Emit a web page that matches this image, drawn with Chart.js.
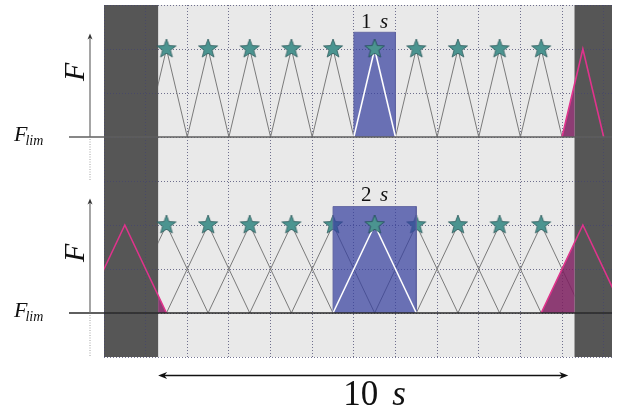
<!DOCTYPE html>
<html>
<head>
<meta charset="utf-8">
<script src="https://cdn.jsdelivr.net/npm/chart.js@4.4.0/dist/chart.umd.min.js"></script>
<style>
html,body{margin:0;padding:0;background:#fff;}
#wrap{width:628px;height:412px;}
</style>
</head>
<body>
<div id="wrap"><canvas id="chart" width="628" height="412"></canvas></div>
<script>
// x = time in seconds (1 grid cell = 1 s), y = force in grid rows
const starCenters = [1.5, 2.5, 3.5, 4.5, 5.5, 6.5, 7.5, 8.5, 9.5, 10.5];
const topBase = 5, topPeak = 7, topHalf = 0.5;   // upper panel, 1 s pulses
const botBase = 1, botPeak = 3, botHalf = 1;     // lower panel, 2 s pulses
const highlighted = [6.5];
const pinkTop = [11.5];
const pinkBottom = [0.5, 11.5];
const lightZone = [1.3, 11.3];                   // the 10 s window
const boxTopX = [6, 7], boxTopY = 7.38;
const boxBotX = [5.5, 7.5], boxBotY = 3.42;

function tri(c, half, base, peak) {
  return [{x: c - half, y: base}, {x: c, y: peak}, {x: c + half, y: base}, {x: c + half, y: null}];
}
function box(xs, base, top) {
  return [{x: xs[0], y: base}, {x: xs[0], y: top}, {x: xs[1], y: top}, {x: xs[1], y: base}];
}

function makeStar(r, fill, stroke) {
  const c = document.createElement('canvas');
  const s = Math.ceil(r * 2 + 4);
  c.width = s; c.height = s;
  const g = c.getContext('2d');
  g.beginPath();
  for (let i = 0; i < 10; i++) {
    const a = -Math.PI / 2 + i * Math.PI / 5;
    const rr = i % 2 ? r * 0.42 : r;
    g.lineTo(s / 2 + rr * Math.cos(a), s / 2 + rr * Math.sin(a));
  }
  g.closePath();
  g.fillStyle = fill; g.fill();
  g.strokeStyle = stroke; g.lineWidth = 0.8; g.stroke();
  return c;
}
const star = makeStar(10, '#4b9490', '#2d5b5c');

const GRAY = '#7a7a7a', PINK = '#e0338c', PINKFILL = 'rgba(125,30,95,0.85)';
const BOXFILL = 'rgba(55,65,160,0.72)';

function lineSet(data, color, width, order, extra) {
  return Object.assign({data: data, showLine: true, borderColor: color, borderWidth: width,
    pointRadius: 0, fill: false, order: order, spanGaps: false}, extra || {});
}

const datasets = [
  lineSet(starCenters.flatMap(c => tri(c, topHalf, topBase, topPeak)), GRAY, 1, 10, {lightClip: true}),
  lineSet(starCenters.flatMap(c => tri(c, botHalf, botBase, botPeak)), GRAY, 1, 10, {lightClip: true}),
  {data: starCenters.map(c => ({x: c, y: topPeak})), pointStyle: star, pointRadius: 10, order: 9},
  {data: starCenters.map(c => ({x: c, y: botPeak})), pointStyle: star, pointRadius: 10, order: 9},
  lineSet(box(boxTopX, topBase, boxTopY), 'rgba(95,100,160,0.85)', 1, 8, {fill: {value: topBase}, backgroundColor: BOXFILL}),
  lineSet(box(boxBotX, botBase, boxBotY), 'rgba(95,100,160,0.85)', 1, 8, {fill: {value: botBase}, backgroundColor: BOXFILL}),
  lineSet(highlighted.flatMap(c => tri(c, topHalf, topBase, topPeak)), '#ffffff', 1.6, 7),
  lineSet(highlighted.flatMap(c => tri(c, botHalf, botBase, botPeak)), '#ffffff', 1.6, 7),
  {data: highlighted.map(c => ({x: c, y: topPeak})), pointStyle: star, pointRadius: 10, order: 6},
  {data: highlighted.map(c => ({x: c, y: botPeak})), pointStyle: star, pointRadius: 10, order: 6},
  lineSet(tri(pinkTop[0], topHalf, topBase, topPeak).slice(0, 3), PINKFILL, 0, 5, {fill: {value: topBase}, backgroundColor: PINKFILL, lightClip: true}),
  lineSet(tri(pinkBottom[0], botHalf, botBase, botPeak).slice(0, 3), PINKFILL, 0, 5, {fill: {value: botBase}, backgroundColor: PINKFILL, lightClip: true}),
  lineSet(tri(pinkBottom[1], botHalf, botBase, botPeak).slice(0, 3), PINKFILL, 0, 5, {fill: {value: botBase}, backgroundColor: PINKFILL, lightClip: true}),
  lineSet(pinkTop.flatMap(c => tri(c, topHalf, topBase, topPeak)), PINK, 1.6, 4),
  lineSet(pinkBottom.flatMap(c => tri(c, botHalf, botBase, botPeak)), PINK, 1.6, 4)
];

const SERIF = '"Liberation Serif", "DejaVu Serif", serif';

function mathText(ctx, parts, cx, y) {
  // parts: [text, italic, size]
  let w = 0;
  parts.forEach(p => { ctx.font = (p[1] ? 'italic ' : '') + p[2] + 'px ' + SERIF; w += ctx.measureText(p[0]).width; });
  let x = cx - w / 2;
  parts.forEach(p => {
    ctx.font = (p[1] ? 'italic ' : '') + p[2] + 'px ' + SERIF;
    ctx.fillText(p[0], x, y);
    x += ctx.measureText(p[0]).width;
  });
}

function arrowHead(ctx, x, y, dx, dy, len, wid) {
  ctx.beginPath();
  ctx.moveTo(x, y);
  ctx.lineTo(x - dx * len - dy * wid, y - dy * len + dx * wid);
  ctx.lineTo(x - dx * len * 0.7, y - dy * len * 0.7);
  ctx.lineTo(x - dx * len + dy * wid, y - dy * len - dx * wid);
  ctx.closePath();
  ctx.fill();
}

// clip some datasets (and their fills) to the light 10 s window;
// registered before the Filler so the clip is active when fills are painted
const lightClip = {
  id: 'lightClip',
  beforeDatasetDraw(chart, args) {
    if (!chart.data.datasets[args.index].lightClip) return;
    const {ctx, chartArea: a, scales: {x}} = chart;
    const l0 = x.getPixelForValue(lightZone[0]), l1 = x.getPixelForValue(lightZone[1]);
    ctx.save();
    ctx.beginPath();
    ctx.rect(l0, a.top, l1 - l0, a.bottom - a.top);
    ctx.clip();
  },
  afterDatasetDraw(chart, args) {
    if (chart.data.datasets[args.index].lightClip) chart.ctx.restore();
  }
};
Chart.unregister(Chart.Filler);
Chart.register(lightClip);
Chart.register(Chart.Filler);

const decor = {
  id: 'decor',
  beforeDraw(chart) {
    const {ctx, chartArea: a, scales: {x}} = chart;
    ctx.save();
    ctx.fillStyle = '#e9e9e9';
    ctx.fillRect(a.left, a.top, a.right - a.left, a.bottom - a.top);
    ctx.fillStyle = '#565656';
    const l0 = x.getPixelForValue(lightZone[0]), l1 = x.getPixelForValue(lightZone[1]);
    ctx.fillRect(a.left, a.top, l0 - a.left, a.bottom - a.top);
    ctx.fillRect(l1, a.top, a.right - l1, a.bottom - a.top);
    ctx.restore();
  },
  afterDraw(chart) {
    const {ctx, chartArea: a, scales: {x, y}} = chart;
    const px = v => x.getPixelForValue(v), py = v => y.getPixelForValue(v);
    ctx.save();

    // F_lim baselines
    ctx.strokeStyle = '#5f5f5f'; ctx.lineWidth = 1.6;
    ctx.beginPath(); ctx.moveTo(a.left - 35, py(topBase)); ctx.lineTo(a.right, py(topBase)); ctx.stroke();
    ctx.strokeStyle = '#2a2a2a'; ctx.lineWidth = 1.3;
    ctx.beginPath(); ctx.moveTo(a.left - 35, py(botBase)); ctx.lineTo(a.right, py(botBase)); ctx.stroke();

    // force axes
    const ax = a.left - 14;
    [[topBase, 7.35, 4], [botBase, 3.6, 0]].forEach(([b, t, d]) => {
      ctx.strokeStyle = '#6a6a6a'; ctx.fillStyle = '#333'; ctx.lineWidth = 1.2; ctx.setLineDash([]);
      ctx.beginPath(); ctx.moveTo(ax, py(b)); ctx.lineTo(ax, py(t) + 3); ctx.stroke();
      arrowHead(ctx, ax, py(t), 0, -1, 6, 2.5);
      ctx.strokeStyle = '#a0a0a0'; ctx.lineWidth = 1; ctx.setLineDash([1, 1.5]);
      ctx.beginPath(); ctx.moveTo(ax, py(b) + 2); ctx.lineTo(ax, py(d)); ctx.stroke();
    });
    ctx.setLineDash([]);

    ctx.fillStyle = '#111';
    ctx.textBaseline = 'alphabetic';
    // F_lim labels
    [topBase, botBase].forEach(b => {
      ctx.font = 'italic 22px ' + SERIF;
      ctx.fillText('F', 14, py(b) + 4);
      const w = ctx.measureText('F').width;
      ctx.font = 'italic 14px ' + SERIF;
      ctx.fillText('lim', 14 + w - 2, py(b) + 8);
    });
    // rotated F
    [6.48, 2.37].forEach(v => {
      ctx.save();
      ctx.translate(px(-0.67), py(v));
      ctx.rotate(-Math.PI / 2);
      ctx.font = 'italic 30px ' + SERIF;
      ctx.textAlign = 'center'; ctx.textBaseline = 'middle';
      ctx.fillText('F', 0, 0);
      ctx.restore();
    });

    // pulse width labels
    mathText(ctx, [['1', false, 21], ['\u2009\u2009', false, 21], ['s', true, 21]], px(6.5), py(7.48));
    mathText(ctx, [['2', false, 21], ['\u2009\u2009', false, 21], ['s', true, 21]], px(6.5), py(3.54));

    // 10 s arrow
    const ay = py(-0.42), x0 = px(lightZone[0]), x1 = px(11.15);
    ctx.strokeStyle = '#111'; ctx.fillStyle = '#111'; ctx.lineWidth = 1.6;
    ctx.beginPath(); ctx.moveTo(x0 + 4, ay); ctx.lineTo(x1 - 4, ay); ctx.stroke();
    arrowHead(ctx, x0, ay, -1, 0, 9, 3.5);
    arrowHead(ctx, x1, ay, 1, 0, 9, 3.5);
    mathText(ctx, [['10', false, 35], ['\u2009\u2009', false, 35], ['s', true, 35]], px(6.5), py(-1.08));
    ctx.restore();
  }
};

new Chart(document.getElementById('chart'), {
  type: 'scatter',
  data: {datasets: datasets},
  options: {
    responsive: false,
    animation: false,
    events: [],
    layout: {padding: {left: 104, right: 16, top: 5, bottom: 55}, autoPadding: false},
    plugins: {legend: {display: false}, tooltip: {enabled: false}},
    scales: {
      x: {
        type: 'linear', min: 0, max: 12.2,
        ticks: {display: false, stepSize: 1, includeBounds: false},
        grid: {drawTicks: false, color: 'rgba(70,70,110,0.75)', lineWidth: 1},
        border: {display: false, dash: [1, 2]},
        afterFit(s) { s.height = 0; }
      },
      y: {
        type: 'linear', min: 0, max: 8,
        ticks: {display: false, stepSize: 1},
        grid: {drawTicks: false, color: 'rgba(70,70,110,0.75)', lineWidth: 1},
        border: {display: false, dash: [1, 2]},
        afterFit(s) { s.width = 0; }
      }
    }
  },
  plugins: [decor]
});
</script>
</body>
</html>
